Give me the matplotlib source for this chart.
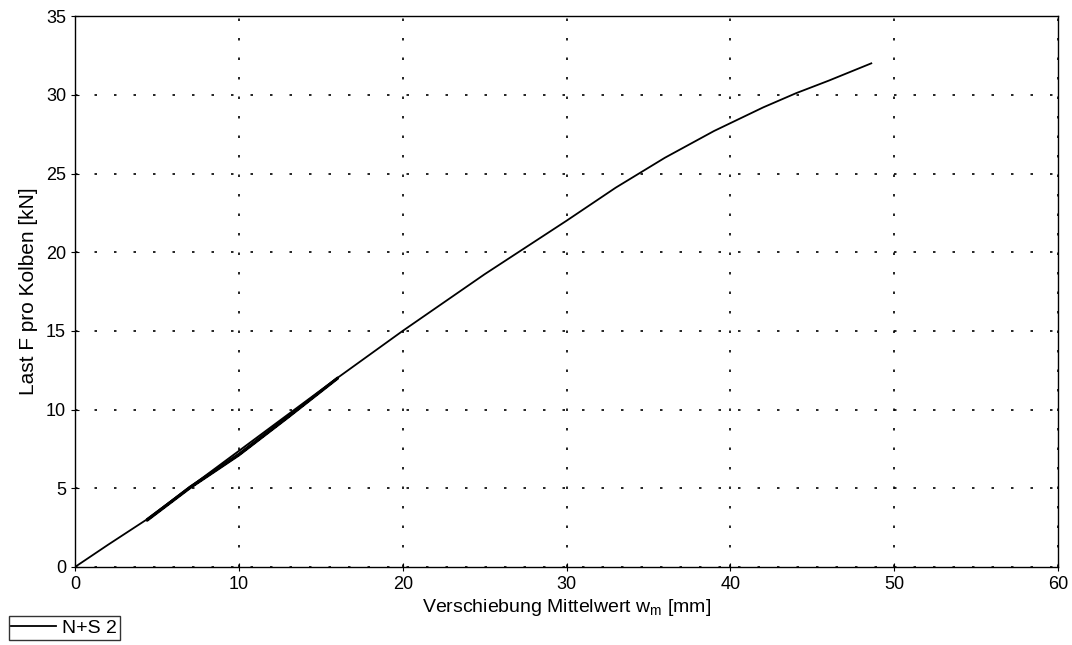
import matplotlib
matplotlib.use("Agg")
import matplotlib.pyplot as plt

plt.rcParams["font.family"] = ["Liberation Sans", "DejaVu Sans"]

# main loading curve (mm, kN)
w_main = [0, 2, 4.5, 7, 10, 13, 16, 20, 25, 30, 33, 36, 39, 42, 44, 46, 48.6]
f_main = [0, 1.4, 3.1, 5.1, 7.2, 9.6, 12.0, 15.0, 18.6, 22.0, 24.1, 26.0, 27.7, 29.2, 30.1, 30.9, 32.0]

# unload / reload cycles between 4.4 and 16 mm
w_cyc = [16, 13, 10, 7, 4.4, 4.4, 7, 10, 13, 16]
f_cyc = [11.95, 9.5, 7.1, 5.0, 2.95, 3.0, 5.05, 7.15, 9.55, 12.0]

fig = plt.figure(figsize=(10.72, 6.45), dpi=100)
ax = fig.add_axes([0.070, 0.121, 0.917, 0.854])

line, = ax.plot(w_main, f_main, color="black", lw=1.3)
ax.plot(w_cyc, f_cyc, color="black", lw=1.8)
ax.plot([4.4, 16], [3.05, 12.0], color="black", lw=1.4)

ax.set_xlim(0, 60)
ax.set_ylim(0, 35)
ax.set_xticks(range(0, 61, 10))
ax.set_yticks(range(0, 36, 5))
ax.tick_params(direction="inout", length=6, width=0.8, labelsize=13, colors="black")
ax.grid(True, color="black", linestyle=(0, (1.5, 10.2)), linewidth=1.2)
for s in ax.spines.values():
    s.set_color("black")
    s.set_linewidth(1.0)

ax.set_xlabel("Verschiebung Mittelwert w$_\\mathregular{m}$ [mm]", fontsize=14, labelpad=3)
ax.set_ylabel("Last F pro Kolben [kN]", fontsize=15, labelpad=6)

fig.legend([line], ["N+S 2"], loc="lower left", bbox_to_anchor=(0.008, 0.008),
           fontsize=14, frameon=True, fancybox=False, edgecolor="black",
           handlelength=2.3, handletextpad=0.3, borderpad=0.15, borderaxespad=0)

fig.savefig("out.png", dpi=100)
